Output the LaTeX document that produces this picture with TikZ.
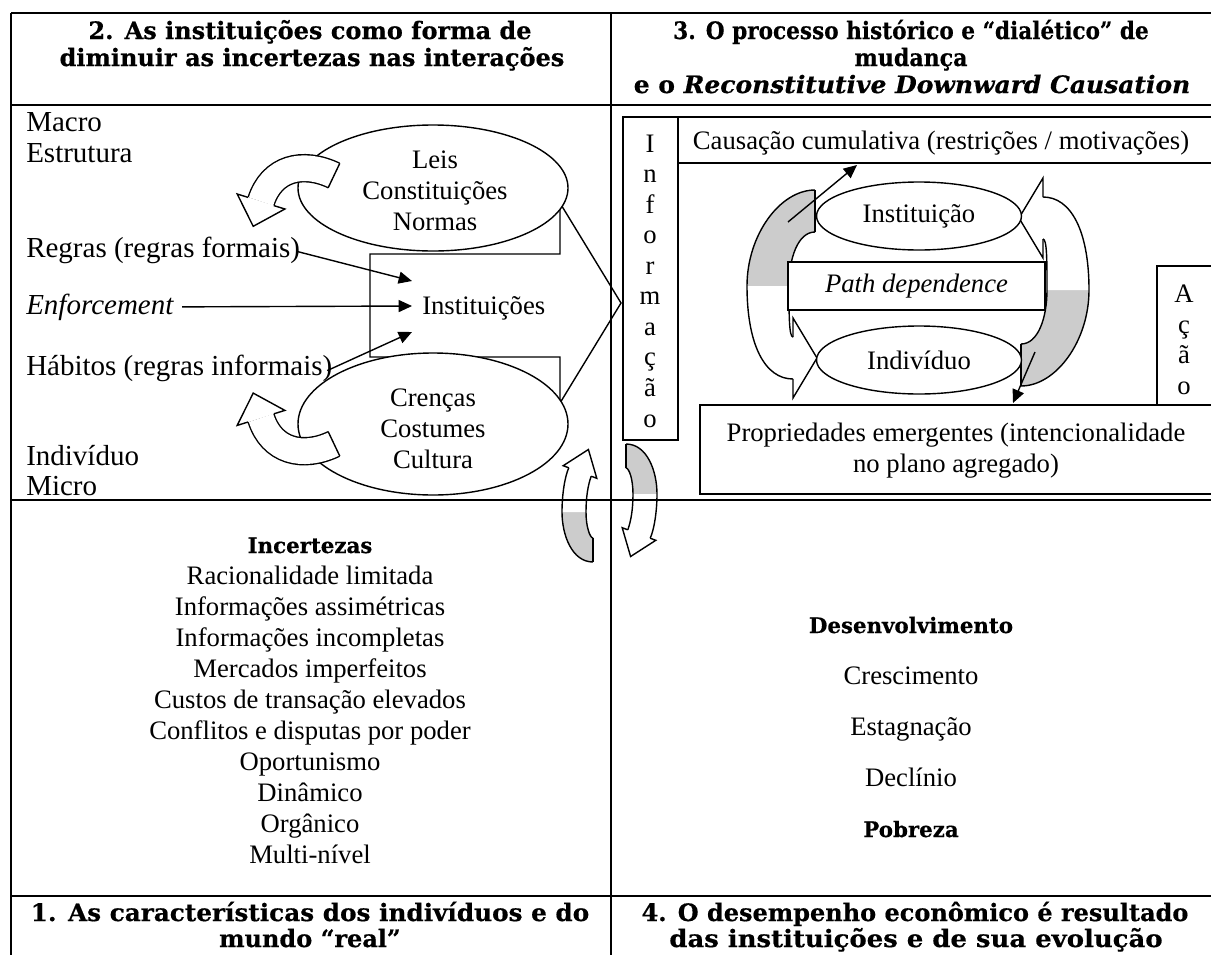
\documentclass[tikz,border=0pt]{standalone}
\usepackage{fontspec}
\setmainfont{Liberation Serif}
\newfontfamily\hdfont{DejaVu Serif}[BoldFeatures={FakeBold=0.5},BoldItalicFeatures={FakeBold=0.5}]
\usetikzlibrary{shapes.geometric,arrows.meta,calc}
\tikzset{
  tbl/.style={line width=1.5pt},
  shp/.style={draw, line width=1.05pt, fill=white},
  body/.style={inner sep=0pt, font=\fontsize{20}{23.25}\selectfont, anchor=base},
  lbl/.style={inner sep=0pt, font=\fontsize{21.75}{25}\selectfont, anchor=base west},
  hdr/.style={inner sep=0pt, font=\hdfont\bfseries\fontsize{18}{21}\selectfont, anchor=base},
  bld/.style={inner sep=0pt, font=\hdfont\bfseries\fontsize{16}{18}\selectfont, anchor=base},
  thinarrow/.style={line width=1.05pt, -{Triangle[length=10pt,width=9pt]}},
  ell/.style={ellipse, draw, line width=1.05pt, fill=white, inner sep=0pt},
  band/.style={draw, line width=1.05pt, double distance=#1},
  edge/.style={line width=1.05pt},
  shade/.style={fill=gray!40},
}
\newcommand\smallcurl{%
  \fill[shade] (593,562) .. controls (572,562) and (562,535) .. (562,512) -- (586,512) .. controls (586,527) and (590,538) .. (593,538) -- cycle;
  \fill[white] (562,512) .. controls (562,494) and (565,476) .. (568.8,467.8) -- (591.2,476.2) .. controls (588,485) and (586,497) .. (586,512) -- cycle;
  \fill[white] (596.8,478.3) -- (588.4,449.5) -- (563.2,465.7) -- cycle;
  \draw[edge] (593,562) .. controls (572,562) and (562,535) .. (562,512) .. controls (562,494) and (565,476) .. (568.8,467.8);
  \draw[edge] (593,538) .. controls (590,538) and (586,527) .. (586,512) .. controls (586,497) and (588,485) .. (591.2,476.2);
  \draw[edge] (591.2,476.2) -- (596.8,478.3) -- (588.4,449.5) -- (563.2,465.7) -- (568.8,467.8);
  \draw[edge] (593,538) -- (593,562);
}
\newcommand\bigcurl{%
  \fill[shade] (815,190) .. controls (780,190) and (747,235) .. (747,286) -- (789,286) .. controls (789,258) and (798,232) .. (815,232) -- cycle;
  \fill[white] (747,286) .. controls (747,345) and (765,379) .. (793,379) -- (793,337) .. controls (789,337) and (789,315) .. (789,286) -- cycle;
  \fill[white] (793,318) -- (817,358) -- (793,398) -- cycle;
  \draw[edge] (815,190) .. controls (780,190) and (747,235) .. (747,286) .. controls (747,345) and (765,379) .. (793,379);
  \draw[edge] (815,232) .. controls (798,232) and (789,258) .. (789,286) .. controls (789,315) and (789,337) .. (793,337);
  \draw[edge] (793,337) -- (793,318) -- (817,358) -- (793,398) -- (793,379);
  \draw[edge] (815,190) -- (815,232);
}
\begin{document}
\begin{tikzpicture}[x=0.75pt,y=-0.75pt]
\useasboundingbox (0,0) rectangle (1211,954);

% ---------- cell 2 (top left) ----------
\draw[shp] (370,254) -- (560,254) -- (560,203) -- (621,303) -- (560,403) -- (560,357) -- (370,357) -- cycle;
\node[ell, minimum width=202.5pt, minimum height=94.5pt] (leis) at (433,188) {};
\node[ell, minimum width=202.5pt, minimum height=106.5pt] (crencas) at (433,424) {};

% curved arrow (upper)
\draw[band=19.2pt, double=white] (334,175.5) .. controls (302.5,160.5) and (271.5,168.2) .. (261,201.5);
\fill[white] (284.9,209) -- (253.2,226.3) -- (237.2,194) -- cycle;
\draw[edge] (273.9,205.6) -- (284.9,209) -- (253.2,226.3) -- (237.2,194) -- (248.1,197.4);
\draw[edge] (339.8,163.3) -- (328.2,187.7);
% curved arrow (lower)
\draw[band=19.2pt, double=white] (334,443.9) .. controls (302.5,458.9) and (271.5,451.2) .. (261,417.9);
\fill[white] (284.9,410.4) -- (253.2,393.1) -- (237.2,425.4) -- cycle;
\draw[edge] (273.9,413.8) -- (284.9,410.4) -- (253.2,393.1) -- (237.2,425.4) -- (248.1,422);
\draw[edge] (339.8,456.1) -- (328.2,431.7);

\node[lbl] (macro) at (26,131) {Macro};
\node[lbl] (estrutura) at (26,162) {Estrutura};
\node[lbl] (regras) at (26,257) {Regras (regras formais)};
\node[lbl] (enforce) at (26,314) {\textit{Enforcement}};
\node[lbl] (habitos) at (26,375) {Hábitos (regras informais)};
\node[lbl] (individuo) at (26,465) {Indivíduo};
\node[lbl] (micro) at (26,495) {Micro};
\node[body] (leist) at (435,168) {Leis};
\node[body] (const) at (435,199) {Constituições};
\node[body] (normas) at (435,230) {Normas};
\node[body] (crt) at (433,406) {Crenças};
\node[body] (cost) at (433,437) {Costumes};
\node[body] (cult) at (433,468) {Cultura};
\node[body, anchor=base west] (inst) at (422,314) {Instituições};
\coordinate (inR) at (412,281);
\coordinate (inE) at (412,306);
\coordinate (inH) at (412,332);
\draw[thinarrow] ([xshift=-3pt,yshift=-1pt]regras.east) -- (inR);
\draw[thinarrow] ([xshift=6pt]enforce.east) -- (inE);
\draw[thinarrow] ([xshift=-4pt,yshift=-2pt]habitos.east) -- (inH);

% ---------- cell 3 (top right) ----------
\draw[shp] (678,117) rectangle (1220,163);
\node[body] (causacao) at (941,149) {Causação cumulativa (restrições / motivações)};
\draw[shp] (623,117) rectangle (678,440);
\node[inner sep=0pt, align=center, font=\fontsize{20}{22.9}\selectfont] (informacao) at (650,281) {I\\n\\f\\o\\r\\m\\a\\ç\\ã\\o};
\draw[shp] (1157,266) rectangle (1220,405);
\node[inner sep=0pt, align=center, font=\fontsize{20}{22.9}\selectfont] (acao) at (1184,340) {A\\ç\\ã\\o};
\draw[shp] (700,405) rectangle (1220,494);
\node[body] (prop1) at (956,441) {Propriedades emergentes (intencionalidade};
\node[body] (prop2) at (956,472) {no plano agregado)};

\bigcurl
\begin{scope}[rotate around={180:(918,288)}]
\bigcurl
\end{scope}

\node[ell, minimum width=153.75pt, minimum height=51pt, font=\fontsize{20}{23.25}\selectfont] (instituicao) at (919,216) {Instituição};
\node[ell, minimum width=153.75pt, minimum height=51pt, font=\fontsize{20}{23.25}\selectfont] (indiv) at (919,360) {Indivíduo};
\node[shp, minimum width=192.75pt, minimum height=36pt, inner sep=0pt, font=\fontsize{20}{23.25}\selectfont] (path) at (916.5,286) {\textit{Path dependence}};

\coordinate (upS) at (788,222);
\coordinate (upE) at (857,165);
\coordinate (dnS) at (1035,352);
\coordinate (dnE) at (1013,403);
\draw[thinarrow] (upS) -- (upE);
\draw[thinarrow] (dnS) -- (dnE);

% ---------- central curls ----------
\smallcurl
\begin{scope}[rotate around={180:(609.5,503)}]
\smallcurl
\end{scope}

% ---------- cell 1 (bottom left) ----------
\node[bld] (incert) at (310,553) {Incertezas};
\node[body] (l1) at (310,584) {Racionalidade limitada};
\node[body] (l2) at (310,615) {Informações assimétricas};
\node[body] (l3) at (310,646) {Informações incompletas};
\node[body] (l4) at (310,677) {Mercados imperfeitos};
\node[body] (l5) at (310,708) {Custos de transação elevados};
\node[body] (l6) at (310,739) {Conflitos e disputas por poder};
\node[body] (l7) at (310,770) {Oportunismo};
\node[body] (l8) at (310,801) {Dinâmico};
\node[body] (l9) at (310,832) {Orgânico};
\node[body] (l10) at (310,863) {Multi-nível};

% ---------- cell 4 (bottom right) ----------
\node[bld] (desenv) at (911,633) {Desenvolvimento};
\node[body] (cresc) at (911,684) {Crescimento};
\node[body] (estag) at (911,735) {Estagnação};
\node[body] (declin) at (911,786) {Declínio};
\node[bld] (pobreza) at (911,837) {Pobreza};

% ---------- headers ----------
\node[hdr] (h2a) at (310,39) {2. As instituições como forma de};
\node[hdr] (h2b) at (312,66) {diminuir as incertezas nas interações};
\node[hdr] (h3a) at (911,39) {\scalebox{0.9}[1]{3. O processo histórico e “dialético” de}};
\node[hdr] (h3b) at (911,66) {\scalebox{0.92}[1]{mudança}};
\node[hdr] (h3c) at (912,93) {\scalebox{1.04}[1]{e o \textit{Reconstitutive Downward Causation}}};
\node[hdr] (h1a) at (310,921) {\scalebox{1.03}[1]{1. As características dos indivíduos e do}};
\node[hdr] (h1b) at (310,947) {mundo “real”};
\node[hdr] (h4a) at (915,921) {4. O desempenho econômico é resultado};
\node[hdr] (h4b) at (916,947) {\scalebox{1.08}[1]{das instituições e de sua evolução}};

% ---------- table ----------
\draw[tbl] (11,13) -- (1215,13);
\draw[tbl] (11,105) -- (1215,105);
\draw[tbl] (11,500) -- (1215,500);
\draw[tbl] (11,896) -- (1215,896);
\draw[tbl] (11,13) -- (11,960);
\draw[tbl] (611,13) -- (611,960);
\end{tikzpicture}
\end{document}
